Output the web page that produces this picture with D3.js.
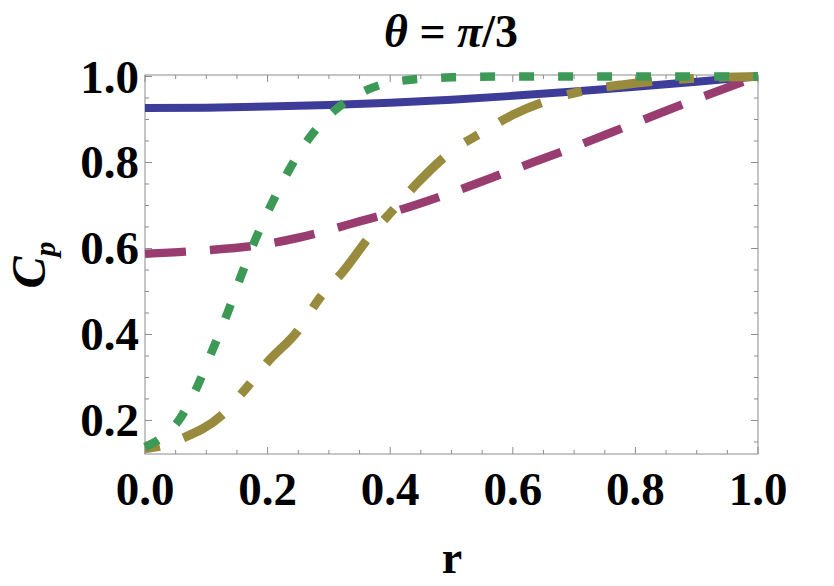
<!DOCTYPE html>
<html>
<head>
<meta charset="utf-8">
<script src="https://cdn.jsdelivr.net/npm/d3@7"></script>
<style>
  html, body { margin: 0; padding: 0; background: #fff; }
  svg { display: block; font-family: "Liberation Serif", "Times New Roman", serif; }
</style>
</head>
<body>
<svg></svg>
<script>
const width = 834;
const height = 586;
const plotLeft = 145;
const plotRight = 758;
const plotTop = 75;
const plotBottom = 454;

// values
const rBlue = [0, 0.1, 0.2, 0.3, 0.4, 0.5, 0.6, 0.7, 0.8, 0.9, 1.0];
const cpBlue = [0.9265, 0.9275, 0.930, 0.934, 0.939, 0.946, 0.955, 0.965, 0.976, 0.988, 1.0];

const rPurple = [0, 0.1, 0.2, 0.25, 0.3, 0.35, 0.4, 0.5, 0.6, 0.7, 0.8, 0.9, 1.0];
const cpPurple = [0.588, 0.596, 0.611, 0.625, 0.643, 0.663, 0.683, 0.73, 0.783, 0.836, 0.892, 0.948, 1.0];

const rGreen = [0, 0.025, 0.052, 0.084, 0.109, 0.133, 0.155, 0.178, 0.205, 0.234, 0.268, 0.311, 0.366, 0.429, 0.5, 0.6, 0.8, 1.0];
const cpGreen = [0.138, 0.158, 0.194, 0.275, 0.36, 0.444, 0.53, 0.614, 0.699, 0.78, 0.857, 0.923, 0.971, 0.992, 0.998, 1.0, 1.0, 1.0];

const rOlive = [0, 0.03, 0.06, 0.125, 0.165, 0.2, 0.25, 0.285, 0.324, 0.367, 0.405, 0.443, 0.5, 0.55, 0.6, 0.67, 0.72, 0.78, 0.85, 0.9, 1.0];
const cpOlive = [0.135, 0.142, 0.158, 0.212, 0.275, 0.336, 0.41, 0.485, 0.548, 0.629, 0.69, 0.75, 0.826, 0.87, 0.911, 0.95, 0.968, 0.981, 0.991, 0.996, 1.0];

const xTicks = [0, 0.2, 0.4, 0.6, 0.8, 1.0];
const yTicks = [0.2, 0.4, 0.6, 0.8, 1.0];

const series = [
  { r: rBlue, cp: cpBlue, color: '#3d3d99', w: 8, dash: null },
  { r: rPurple, cp: cpPurple, color: '#993d71', w: 8.5, dash: '41 24' },
  { r: rOlive, cp: cpOlive, color: '#998b3d', w: 9, dash: '15 25 46 27' },
  { r: rGreen, cp: cpGreen, color: '#3d9956', w: 8.5, dash: '15 24' }
];

const svg = d3.select('svg')
  .attr('width', width)
  .attr('height', height);

const x = d3.scaleLinear().domain([0, 1]).range([plotLeft, plotRight]);
const y = d3.scaleLinear().domain([0.122, 1.0035]).range([plotBottom, plotTop]);

const minorX = d3.range(0, 1.0001, 0.05);
const minorY = d3.range(0.15, 1.0001, 0.05);

// frame with inward ticks on all four sides
const frame = svg.append('g').attr('stroke', '#8c8c8c').attr('fill', 'none');
frame.append('rect')
  .attr('x', plotLeft).attr('y', plotTop)
  .attr('width', plotRight - plotLeft).attr('height', plotBottom - plotTop)
  .attr('stroke-width', 1);

const isMajor = v => Math.abs(v * 5 - Math.round(v * 5)) < 1e-6;

minorX.forEach(v => {
  const len = isMajor(v) ? 7 : 4;
  frame.append('line').attr('x1', x(v)).attr('x2', x(v)).attr('y1', plotBottom).attr('y2', plotBottom - len);
  frame.append('line').attr('x1', x(v)).attr('x2', x(v)).attr('y1', plotTop).attr('y2', plotTop + len);
});
minorY.forEach(v => {
  const len = isMajor(v) ? 7 : 4;
  frame.append('line').attr('y1', y(v)).attr('y2', y(v)).attr('x1', plotLeft).attr('x2', plotLeft + len);
  frame.append('line').attr('y1', y(v)).attr('y2', y(v)).attr('x1', plotRight).attr('x2', plotRight - len);
});

// curves
series.forEach(s => {
  const line = d3.line()
    .x((d, i) => x(s.r[i]))
    .y(d => y(d))
    .curve(d3.curveMonotoneX);
  svg.append('path')
    .datum(s.cp)
    .attr('fill', 'none')
    .attr('stroke', s.color)
    .attr('stroke-width', s.w)
    .attr('stroke-dasharray', s.dash)
    .attr('stroke-linecap', 'butt')
    .attr('d', line);
});

// tick labels
svg.append('g').selectAll('text')
  .data(xTicks)
  .join('text')
  .attr('x', d => x(d))
  .attr('y', 505)
  .attr('text-anchor', 'middle')
  .attr('font-size', 47)
  .attr('font-weight', 'bold')
  .text(d => d.toFixed(1));

svg.append('g').selectAll('text')
  .data(yTicks)
  .join('text')
  .attr('x', 139)
  .attr('y', d => y(d) + 16)
  .attr('text-anchor', 'end')
  .attr('font-size', 47)
  .attr('font-weight', 'bold')
  .text(d => d.toFixed(1));

// title
const title = svg.append('text')
  .attr('x', 451)
  .attr('y', 47)
  .attr('text-anchor', 'middle')
  .attr('font-size', 46)
  .attr('font-weight', 'bold');
title.append('tspan').attr('font-style', 'italic').text('θ');
title.append('tspan').text(' = ');
title.append('tspan').attr('font-style', 'italic').text('π');
title.append('tspan').text('/3');

// axis labels
svg.append('text')
  .attr('x', 452)
  .attr('y', 573)
  .attr('text-anchor', 'middle')
  .attr('font-size', 46)
  .attr('font-weight', 'bold')
  .text('r');

const yLabel = svg.append('text')
  .attr('transform', 'translate(45, 265) rotate(-90)')
  .attr('text-anchor', 'middle')
  .attr('font-size', 48)
  .attr('font-weight', 'bold')
  .attr('font-style', 'italic');
yLabel.append('tspan').text('C');
yLabel.append('tspan').attr('font-size', 30).attr('dy', 10).text('p');
</script>
</body>
</html>
